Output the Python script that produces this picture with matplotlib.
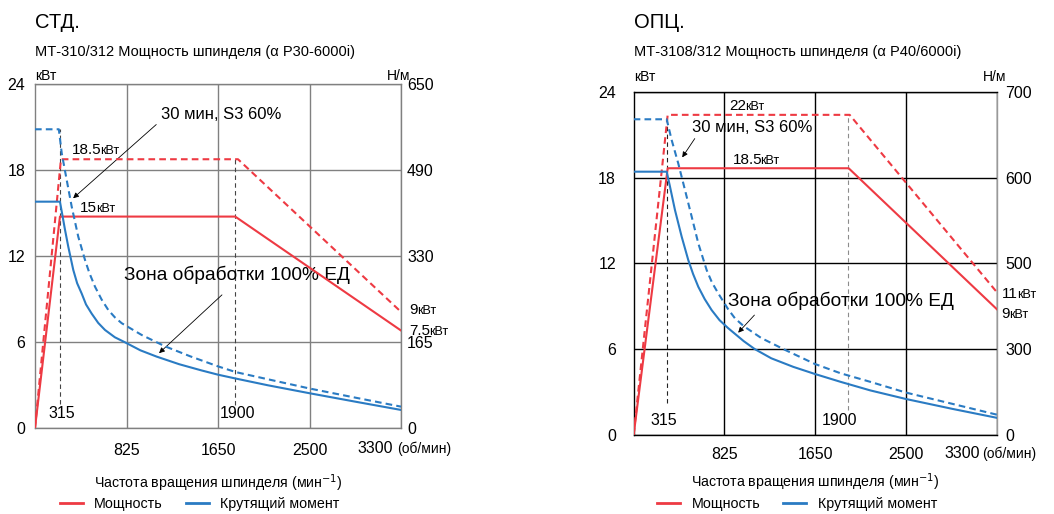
import matplotlib
matplotlib.use('Agg')
import matplotlib.pyplot as plt
from matplotlib.lines import Line2D

plt.rcParams['font.family'] = ['Liberation Sans', 'DejaVu Sans']
NARROW = ['Liberation Sans Narrow', 'Liberation Sans', 'DejaVu Sans']

RED = '#ee3a43'
BLUE = '#2a7bc3'
DASH = (0, (3.2, 2.0))

# общие подписи
power_ticks = [0, 6, 12, 18, 24]
speed_ticks = [825, 1650, 2475, 3300]
speed_labels = ['825', '1650', '2500', '']
legend_labels = ['Мощность', 'Крутящий момент']
xlabel_text = 'Частота вращения шпинделя (мин$^{-1}$)'

# ---- СТД. ----
std_title = 'СТД.'
std_subtitle = 'МТ-310/312 Мощность шпинделя (α P30-6000i)'
std_torque_labels = ['0', '165', '330', '490', '650']
std_power_s1_x = [0, 225, 1805, 3300]
std_power_s1_y = [0, 14.75, 14.75, 6.8]
std_power_s3_x = [0, 234, 1830, 3300]
std_power_s3_y = [0, 18.75, 18.75, 8.1]
std_torque_s1_x = [0, 225, 255, 270, 300, 345, 380, 421, 460, 511, 570, 631, 720, 811, 950, 1097,
                   1300, 1500, 1650, 1810, 2100, 2479, 2900, 3300]
std_torque_s1_y = [15.79, 15.79, 14.5, 13.85, 12.65, 11.03, 10.1, 9.38, 8.62, 7.98, 7.33, 6.84, 6.33,
                   5.98, 5.42, 4.98, 4.45, 4.02, 3.72, 3.45, 2.98, 2.42, 1.82, 1.26]
std_torque_s3_x = [0, 215, 241, 286, 331, 390, 451, 490, 541, 600, 661, 720, 782, 962, 1172, 1400,
                   1650, 1810, 2100, 2479, 2900, 3300]
std_torque_s3_y = [20.84, 20.84, 19.17, 17.3, 15.44, 13.35, 11.72, 10.82, 9.86, 8.97, 8.23, 7.72,
                   7.31, 6.49, 5.7, 5.0, 4.3, 3.9, 3.4, 2.75, 2.1, 1.49]
std_marker_x = [225, 1805]
std_marker_top = [20.84, 18.75]
std_marker_bottom = [1.7, 1.6]
std_marker_labels = ['315', '1900']
std_marker_label_x = [243, 1830]
std_values = [('18.5', 334, 19.5), ('15', 406, 15.44), ('9', 3372, 8.37), ('7.5', 3372, 6.9)]

# ---- ОПЦ. ----
opt_title = 'ОПЦ.'
opt_subtitle = 'МТ-3108/312 Мощность шпинделя (α P40/6000i)'
opt_torque_labels = ['0', '300', '500', '600', '700']
opt_power_s1_x = [0, 309, 1953, 3300]
opt_power_s1_y = [0, 18.66, 18.66, 8.78]
opt_power_s3_x = [0, 309, 1962, 3300]
opt_power_s3_y = [0, 22.4, 22.4, 9.97]
opt_torque_s1_x = [0, 300, 330, 375, 436, 496, 540, 587, 645, 708, 780, 857, 1000, 1099, 1250, 1450,
                   1647, 1880, 2150, 2473, 2900, 3300]
opt_torque_s1_y = [18.42, 18.42, 17.37, 15.74, 13.87, 12.23, 11.25, 10.36, 9.5, 8.73, 8.02, 7.47,
                   6.55, 6.0, 5.35, 4.75, 4.25, 3.7, 3.1, 2.5, 1.8, 1.18]
opt_torque_s3_x = [0, 300, 345, 405, 466, 527, 587, 663, 710, 768, 857, 920, 1000, 1159, 1372,
                   1647, 1880, 2150, 2473, 2900, 3300]
opt_torque_s3_y = [22.09, 22.09, 20.64, 19.0, 17.14, 15.27, 13.4, 11.53, 10.68, 9.9, 8.8, 8.15, 7.6,
                   6.77, 5.95, 4.95, 4.3, 3.7, 2.95, 2.15, 1.4]
opt_marker_x = [300, 1947]
opt_marker_top = [22.09, 22.4]
opt_marker_bottom = [2.2, 1.73]
opt_marker_labels = ['315', '1900']
opt_marker_label_x = [269, 1874]
opt_values = [('22', 866, 23.09), ('18.5', 902, 19.33), ('11', 3343, 9.97), ('9', 3343, 8.57)]


def value_label(ax, num, x, y, size=11):
    # число и "кВт" на одной базовой линии, единица мельче
    width = sum(0.278 if ch == '.' else 0.556 for ch in num) * size * 0.93
    drop = -0.36 * size
    ax.annotate(num, xy=(x, y), xytext=(0, drop), textcoords='offset points',
                fontsize=size, ha='left', va='baseline', annotation_clip=False)
    ax.annotate('кВт', xy=(x, y), xytext=(width, drop), textcoords='offset points',
                fontsize=9, ha='left', va='baseline', annotation_clip=False)


def note(ax, text, text_xy, arrow_from, arrow_to, size):
    ax.text(text_xy[0], text_xy[1], text, fontsize=size, ha='left', va='center')
    ax.annotate('', xy=arrow_to, xytext=arrow_from,
                arrowprops=dict(arrowstyle='-|>', lw=0.6, color='black', mutation_scale=8))


def draw_panel(ax, title, subtitle, torque_labels,
               p1x, p1y, p3x, p3y, t1x, t1y, t3x, t3y,
               mk_x, mk_top, mk_bot, mk_labels, mk_label_x, values,
               grid_color, marker_colors, lpad, rpad, xpad, hdr):
    ax.set_xlim(0, 3300)
    ax.set_ylim(0, 24)

    ax.plot(p1x, p1y, color=RED, lw=1.5, zorder=4)
    ax.plot(p3x, p3y, color=RED, lw=1.5, ls=DASH, zorder=4)
    ax.plot(t1x, t1y, color=BLUE, lw=1.5, zorder=4)
    ax.plot(t3x, t3y, color=BLUE, lw=1.5, ls=DASH, zorder=4)

    for x, top, bot, c in zip(mk_x, mk_top, mk_bot, marker_colors):
        ax.vlines(x, bot, top, colors=c, lw=0.8, linestyles=(0, (4, 3)), zorder=3)
    for lab, lx in zip(mk_labels, mk_label_x):
        ax.text(lx, 1.0, lab, fontsize=11.5, ha='center', va='center')

    for num, x, y in values:
        value_label(ax, num, x, y)

    ax.set_xticks(speed_ticks, speed_labels)
    ax.set_yticks(power_ticks, [str(v) for v in power_ticks])
    ax.tick_params(length=0, labelsize=11.5)
    ax.tick_params(axis='y', pad=lpad)
    ax.tick_params(axis='x', pad=xpad)
    ax.grid(True, color=grid_color, lw=1.0)
    for s in ax.spines.values():
        s.set_color(grid_color)
        s.set_linewidth(1.0)

    ax2 = ax.twinx()
    ax2.set_ylim(0, 24)
    ax2.set_yticks(power_ticks, torque_labels)
    ax2.tick_params(length=0, labelsize=11.5, pad=rpad)
    for s in ax2.spines.values():
        s.set_visible(False)

    # последняя отметка оси скорости и единицы
    ax.annotate('3300', xy=(3300, 0), xytext=(hdr['r3300'], -hdr['xl']),
                textcoords='offset points', ha='right', va='center', fontsize=11.5,
                annotation_clip=False)
    ax.annotate('(об/мин)', xy=(3300, 0), xytext=(hdr['rum'], -hdr['xl']),
                textcoords='offset points', ha='left', va='center', fontsize=10,
                annotation_clip=False)

    ax.text(0, hdr['title'], title, transform=ax.transAxes, fontsize=14.5,
            family=NARROW, ha='left', va='center')
    ax.text(0, hdr['sub'], subtitle, transform=ax.transAxes, fontsize=10.5,
            family=NARROW, ha='left', va='center')
    ax.text(0, hdr['unit'], 'кВт', transform=ax.transAxes, fontsize=10,
            family=NARROW, ha='left', va='center')
    ax.text(1.025, hdr['unit'], 'Н/м', transform=ax.transAxes, fontsize=10,
            family=NARROW, ha='right', va='center')

    ax.set_xlabel(xlabel_text, fontsize=10.2, family=NARROW)
    ax.xaxis.set_label_coords(0.5, hdr['xlabel'])
    handles = [Line2D([], [], color=RED, lw=2), Line2D([], [], color=BLUE, lw=2)]
    ax.legend(handles, legend_labels, loc='center', bbox_to_anchor=(0.45, hdr['legend']),
              ncol=2, frameon=False, handlelength=1.6, handletextpad=0.8,
              columnspacing=1.6, prop={'family': NARROW, 'size': 10.3})


fig = plt.figure(figsize=(10.54, 5.14), dpi=100)
ax_std = fig.add_axes([0.0332, 0.1673, 0.3473, 0.6693])
ax_opt = fig.add_axes([0.6012, 0.1543, 0.3447, 0.6667])

draw_panel(ax_std, std_title, std_subtitle, std_torque_labels,
           std_power_s1_x, std_power_s1_y, std_power_s3_x, std_power_s3_y,
           std_torque_s1_x, std_torque_s1_y, std_torque_s3_x, std_torque_s3_y,
           std_marker_x, std_marker_top, std_marker_bottom, std_marker_labels,
           std_marker_label_x, std_values,
           '#808080', ['#444444', '#444444'], 7, 4.3, 10.5,
           dict(title=1.18, sub=1.093, unit=1.023, xlabel=-0.128, legend=-0.221,
                r3300=-5.8, rum=-2.9, xl=15))
note(ax_std, '30 мин, S3 60%', (1136, 21.9), (1112, 21.3), (325, 15.9), 12)
note(ax_std, 'Зона обработки 100% ЕД', (802, 10.68), (1704, 9.42), (1100, 5.09), 13.8)

draw_panel(ax_opt, opt_title, opt_subtitle, opt_torque_labels,
           opt_power_s1_x, opt_power_s1_y, opt_power_s3_x, opt_power_s3_y,
           opt_torque_s1_x, opt_torque_s1_y, opt_torque_s3_x, opt_torque_s3_y,
           opt_marker_x, opt_marker_top, opt_marker_bottom, opt_marker_labels,
           opt_marker_label_x, opt_values,
           '#000000', ['#222222', '#8c8c8c'], 12.7, 5.8, 9.2,
           dict(title=1.204, sub=1.117, unit=1.044, xlabel=-0.108, legend=-0.202,
                r3300=-12.2, rum=-11, xl=13.5))
ax_opt.spines['right'].set_color('#999999')
note(ax_opt, '30 мин, S3 60%', (527, 21.48), (569, 20.9), (427, 19.26), 12)
note(ax_opt, 'Зона обработки 100% ЕД', (857, 9.34), (1114, 8.52), (932, 7.0), 13.8)

fig.savefig('out.png', dpi=100)
